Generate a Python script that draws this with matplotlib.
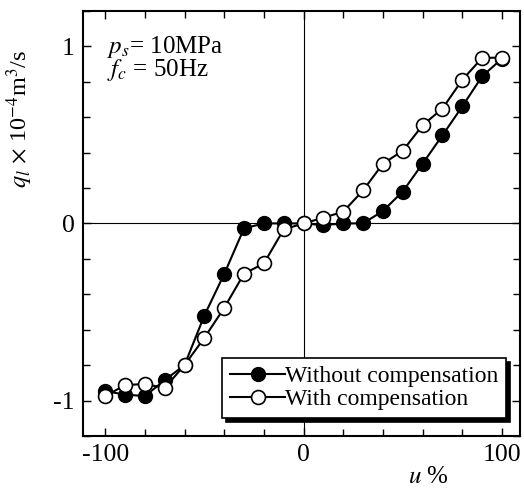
import matplotlib
matplotlib.use('Agg')
import matplotlib.pyplot as plt
import numpy as np

plt.rcParams['font.family'] = ['Liberation Serif', 'DejaVu Serif']
plt.rcParams['mathtext.fontset'] = 'stix'

u = [-100, -90, -80, -70, -60, -50, -40, -30, -20, -10, 0,
     10, 20, 30, 40, 50, 60, 70, 80, 90, 100]
q_without = [-0.947, -0.966, -0.975, -0.885, -0.80, -0.52, -0.286, -0.028, 0.0, 0.0, 0.0,
             -0.01, 0.0, 0.0, 0.07, 0.18, 0.337, 0.497, 0.66, 0.83, 0.93]
q_with = [-0.975, -0.913, -0.906, -0.929, -0.80, -0.646, -0.477, -0.284, -0.226, -0.034, 0.0,
          0.032, 0.066, 0.186, 0.337, 0.41, 0.554, 0.648, 0.81, 0.934, 0.936]

fig = plt.figure(figsize=(5.24, 4.91), dpi=100)
ax = fig.add_axes([0.159, 0.112, 0.833, 0.866])

ax.axhline(0, color='black', lw=0.8, zorder=1)
ax.axvline(0, color='black', lw=0.8, zorder=1)

ax.plot(u, q_without, '-o', color='black', mfc='black', mec='black',
        ms=10, lw=1.5, label='Without compensation', zorder=3)
ax.plot(u, q_with, '-o', color='black', mfc='white', mec='black',
        ms=10, lw=1.5, mew=1.2, label='With compensation', zorder=4)

ax.set_xlim(-111, 109)
ax.set_ylim(-1.2, 1.2)
ax.set_xticks([-100, 0, 100])
ax.set_xticks(np.arange(-100, 101, 20), minor=True)
ax.set_yticks([-1, 0, 1])
ax.set_yticklabels(['-1', '0', '1'])
ax.set_yticks(np.arange(-1.2, 1.21, 0.2), minor=True)
ax.set_xticklabels(['-100', '0', '100'])
ax.tick_params(which='both', direction='in', top=True, right=True, labelsize=18.5, width=1)
ax.tick_params(which='major', length=6, pad=6)
ax.tick_params(which='minor', length=5)
for s in ax.spines.values():
    s.set_linewidth(1.5)

ax.set_ylabel(r'$q_l\,\times\,$10$^{-4}$m$^3$/s', fontsize=17.5)
ax.yaxis.set_label_coords(-0.11, 0.745)
ax.set_xlabel(r'$u$ %', fontsize=18)
ax.xaxis.set_label_coords(0.79, -0.07)

ax.text(0.055, 0.945, '$p_s$= 10MPa\n$f_c$ = 50Hz', transform=ax.transAxes,
        fontsize=18, va='top', ha='left', linespacing=0.85)

leg = ax.legend(loc='lower right', bbox_to_anchor=(0.985, 0.025), fontsize=17,
                frameon=True, fancybox=False, edgecolor='black', framealpha=1,
                shadow={'color': 'black', 'alpha': 1, 'ox': 3, 'oy': -3},
                handlelength=2.3, handletextpad=0.0, borderpad=0.35,
                labelspacing=0.05, borderaxespad=0.3)
leg.get_frame().set_linewidth(1.2)

fig.savefig('out.png', dpi=100)
